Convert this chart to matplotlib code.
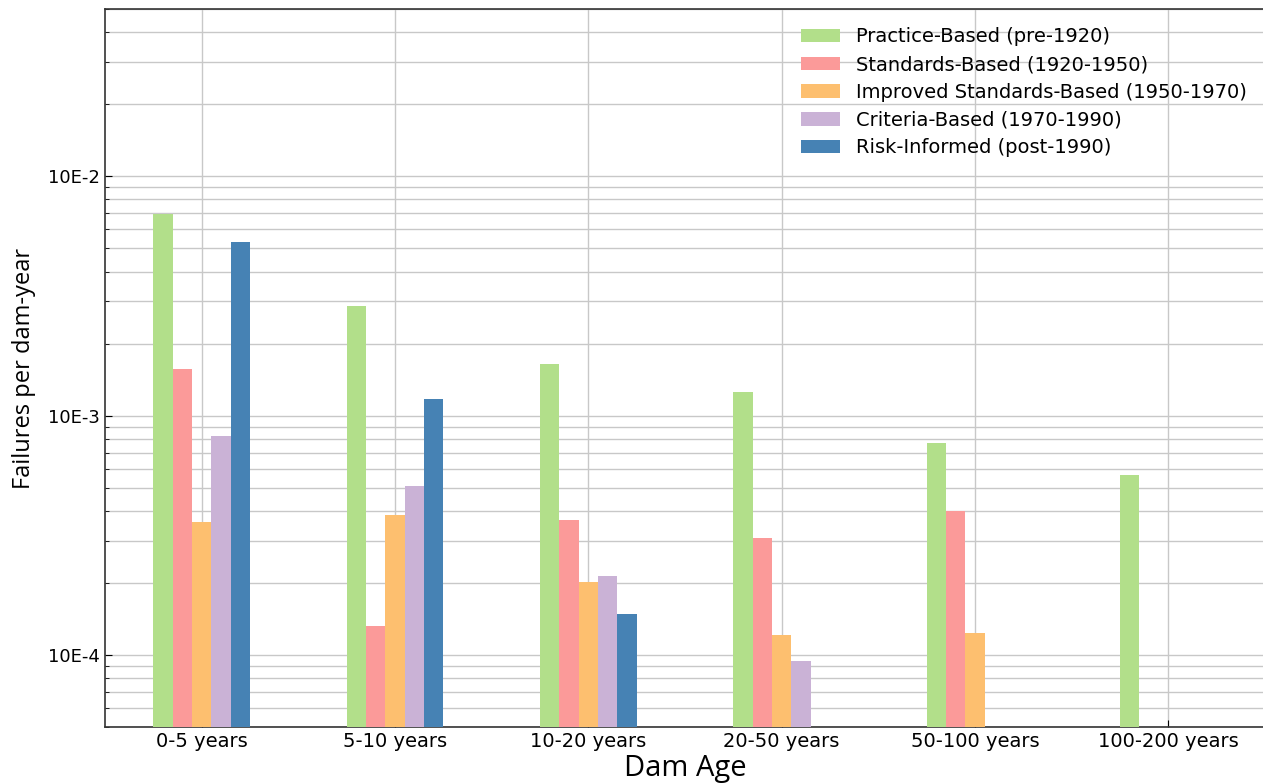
import numpy as np
import matplotlib
matplotlib.use('Agg')
import matplotlib.pyplot as plt
from matplotlib.ticker import LogLocator, FuncFormatter, NullFormatter

# Dam age categories
ages = ['0-5 years', '5-10 years', '10-20 years', '20-50 years', '50-100 years', '100-200 years']

# Failure rates per dam-year, by design era (nan = no bar)
practice = [6.96e-3, 2.87e-3, 1.65e-3, 1.25e-3, 7.7e-4, 5.65e-4]
standards = [1.57e-3, 1.32e-4, 3.65e-4, 3.09e-4, 4.0e-4, np.nan]
improved = [3.58e-4, 3.83e-4, 2.01e-4, 1.21e-4, 1.24e-4, np.nan]
criteria = [8.2e-4, 5.1e-4, 2.13e-4, 9.46e-5, np.nan, np.nan]
risk = [5.34e-3, 1.17e-3, 1.48e-4, np.nan, np.nan, np.nan]

series = [practice, standards, improved, criteria, risk]
labels = ['Practice-Based (pre-1920)', 'Standards-Based (1920-1950)',
          'Improved Standards-Based (1950-1970)', 'Criteria-Based (1970-1990)',
          'Risk-Informed (post-1990)']
colors = ['#b2df8a', '#fb9a99', '#fdbf6f', '#cab2d6', '#4682b4']

fig = plt.figure(figsize=(12.63, 7.84), dpi=100)
ax = fig.add_axes([0.0831, 0.0727, 0.9185, 0.9158])

x = np.arange(len(ages))
width = 0.1
for i, (vals, lab, col) in enumerate(zip(series, labels, colors)):
    ax.bar(x + (i - 2) * width, vals, width, color=col, label=lab, zorder=3)

ax.set_yscale('log')
ax.set_ylim(5e-5, 5e-2)
ax.set_xlim(-0.5, 5.5)
ax.set_xticks(x)
ax.set_xticklabels(ages, fontsize=14)

ax.yaxis.set_major_locator(LogLocator(base=10, numticks=10))
ax.yaxis.set_minor_locator(LogLocator(base=10, subs=np.arange(2, 10), numticks=20))
ax.yaxis.set_major_formatter(FuncFormatter(lambda v, p: '10E%d' % int(round(np.log10(v)))))
ax.yaxis.set_minor_formatter(NullFormatter())
ax.tick_params(axis='y', which='major', labelsize=13, direction='in', length=5)
ax.tick_params(axis='y', which='minor', direction='in', length=3)
ax.tick_params(axis='x', direction='in', length=5)

ax.grid(True, which='major', axis='both', color='#c8c8c8', linewidth=1.0, zorder=0)
ax.grid(True, which='minor', axis='y', color='#c8c8c8', linewidth=1.0, zorder=0)
ax.set_axisbelow(True)

for s in ['left', 'bottom', 'top']:
    ax.spines[s].set_color('#333333')
    ax.spines[s].set_linewidth(1.2)
ax.spines['right'].set_visible(False)

ax.set_xlabel('Dam Age', fontsize=21, family='Open Sans', labelpad=2)
ax.set_ylabel('Failures per dam-year', fontsize=17, family='Open Sans', labelpad=9)

ax.legend(loc='upper right', fontsize=14, frameon=False, borderaxespad=0.55,
          labelspacing=0.45)

plt.savefig('out.png', dpi=100)
